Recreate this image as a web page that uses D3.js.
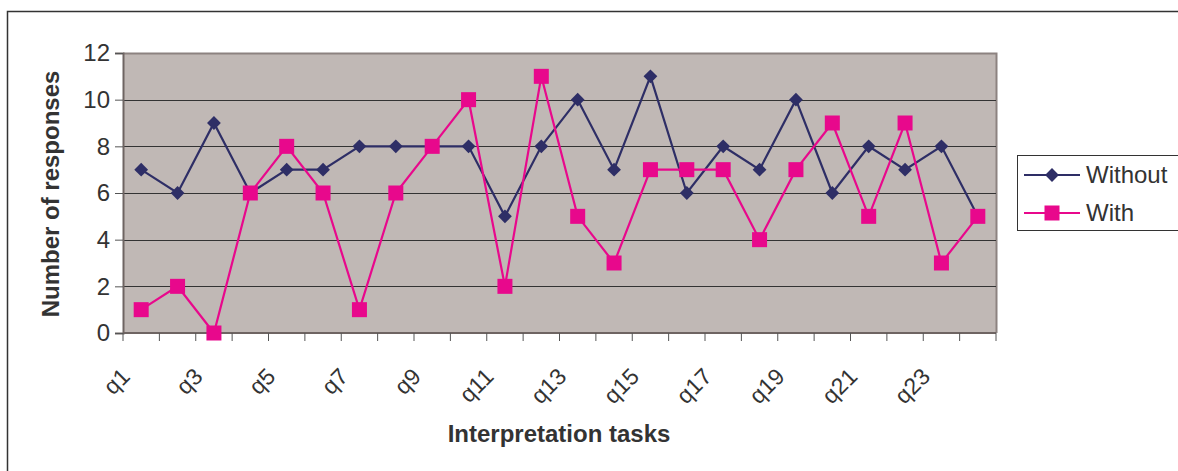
<!DOCTYPE html>
<html><head><meta charset="utf-8">
<script src="https://cdn.jsdelivr.net/npm/d3@7"></script>
<style>body{margin:0;background:#fff}svg{display:block}</style>
</head><body>
<svg id="c" width="1178" height="471"></svg>
<script>
const categories = ["q1","q2","q3","q4","q5","q6","q7","q8","q9","q10","q11","q12","q13","q14","q15","q16","q17","q18","q19","q20","q21","q22","q23","q24"];
const withoutValues = [7,6,9,6,7,7,8,8,8,8,5,8,10,7,11,6,8,7,10,6,8,7,8,5];
const withValues = [1,2,0,6,8,6,1,6,8,10,2,11,5,3,7,7,7,4,7,9,5,9,3,5];
const yTicks = [0,2,4,6,8,10,12];
const seriesNames = ["Without","With"];

const svg = d3.select("#c");
const L = 123, R = 996, T = 53, B = 333;
const font = "Arial, 'Liberation Sans', sans-serif";

// outer frame
svg.append("rect").attr("x",7.5).attr("y",11.5).attr("width",1200).attr("height",500)
  .attr("fill","#fff").attr("stroke","#333").attr("stroke-width",1.5);

const x = d3.scaleBand().domain(categories).range([L,R]).padding(0);
const y = d3.scaleLinear().domain([0,12]).range([B,T]);

// plot background
svg.append("rect").attr("x",L).attr("y",T).attr("width",R-L).attr("height",B-T)
  .attr("fill","#c0b8b5");
svg.append("path").attr("d",`M${L},${T+0.5}H${R+0.5}V${B}`).attr("fill","none")
  .attr("stroke","#8c8280").attr("stroke-width",2);

// gridlines
svg.append("g").selectAll("line").data(yTicks.filter(d=>d>0 && d<12)).join("line")
  .attr("x1",L).attr("x2",R).attr("y1",d=>Math.round(y(d))+0.5).attr("y2",d=>Math.round(y(d))+0.5)
  .attr("stroke","#333").attr("stroke-width",1);

// y axis
const ya = svg.append("g").attr("transform",`translate(${L},0)`)
  .call(d3.axisLeft(y).tickValues(yTicks).tickSize(8).tickPadding(5));
ya.select(".domain").attr("stroke","#6e6462").attr("stroke-width",2);
ya.selectAll(".tick line").attr("stroke","#555");
ya.selectAll("text").style("font-family",font).style("font-size","24px").attr("fill","#333");

// x axis
const xa = svg.append("g").attr("transform",`translate(0,${B})`);
xa.append("line").attr("x1",L).attr("x2",R).attr("y1",0).attr("y2",0).attr("stroke","#6e6462").attr("stroke-width",2);
const bounds = categories.map(c=>x(c)).concat([R]);
xa.selectAll("line.t").data(bounds).join("line").attr("class","t")
  .attr("x1",d=>d).attr("x2",d=>d).attr("y1",0).attr("y2",8).attr("stroke","#555");
xa.selectAll("text").data(categories.filter((d,i)=>i%2===0)).join("text")
  .attr("transform",d=>`translate(${x(d)+x.bandwidth()/2-10},${45}) rotate(-45)`)
  .attr("text-anchor","end")
  .style("font-family",font).style("font-size","23px").attr("fill","#333").text(d=>d);

// titles
svg.append("text").attr("x",559).attr("y",442).attr("text-anchor","middle")
  .style("font-family",font).style("font-size","24px").attr("font-weight","bold").attr("fill","#333")
  .text("Interpretation tasks");
svg.append("text").attr("transform",`translate(59,194) rotate(-90)`).attr("text-anchor","middle")
  .style("font-family",font).style("font-size","24px").attr("font-weight","bold").attr("fill","#333")
  .text("Number of responses");

const cx = d => x(d)+x.bandwidth()/2;
const line = d3.line().x((d,i)=>cx(categories[i])).y(d=>y(d));
const colors = ["#2e2e66","#e8088c"];

svg.append("path").datum(withoutValues).attr("d",line).attr("fill","none").attr("stroke",colors[0]).attr("stroke-width",2.2);
svg.append("path").datum(withValues).attr("d",line).attr("fill","none").attr("stroke",colors[1]).attr("stroke-width",2.2);

svg.append("g").selectAll("path").data(withoutValues).join("path")
  .attr("d",d3.symbol().type(d3.symbolSquare).size(95))
  .attr("transform",(d,i)=>`translate(${cx(categories[i])},${y(d)}) rotate(45)`)
  .attr("fill",colors[0]);
svg.append("g").selectAll("rect").data(withValues).join("rect")
  .attr("x",(d,i)=>cx(categories[i])-7.5).attr("y",d=>y(d)-7.5).attr("width",15).attr("height",15)
  .attr("fill",colors[1]);

// legend
const lg = svg.append("g");
lg.append("rect").attr("x",1017.5).attr("y",155.5).attr("width",200).attr("height",75)
  .attr("fill","#fff").attr("stroke","#333").attr("stroke-width",1);
seriesNames.forEach((n,i)=>{
  const yy = 175 + i*38;
  lg.append("line").attr("x1",1024).attr("x2",1080).attr("y1",yy).attr("y2",yy).attr("stroke",colors[i]).attr("stroke-width",2.2);
  if(i===0) lg.append("path").attr("d",d3.symbol().type(d3.symbolSquare).size(95)).attr("transform",`translate(1052,${yy}) rotate(45)`).attr("fill",colors[0]);
  else lg.append("rect").attr("x",1052-7.5).attr("y",yy-7.5).attr("width",15).attr("height",15).attr("fill",colors[1]);
  lg.append("text").attr("x",1086).attr("y",yy).attr("dy","0.35em").style("font-family",font).style("font-size","24px").attr("fill","#333").text(n);
});
</script>
</body></html>
